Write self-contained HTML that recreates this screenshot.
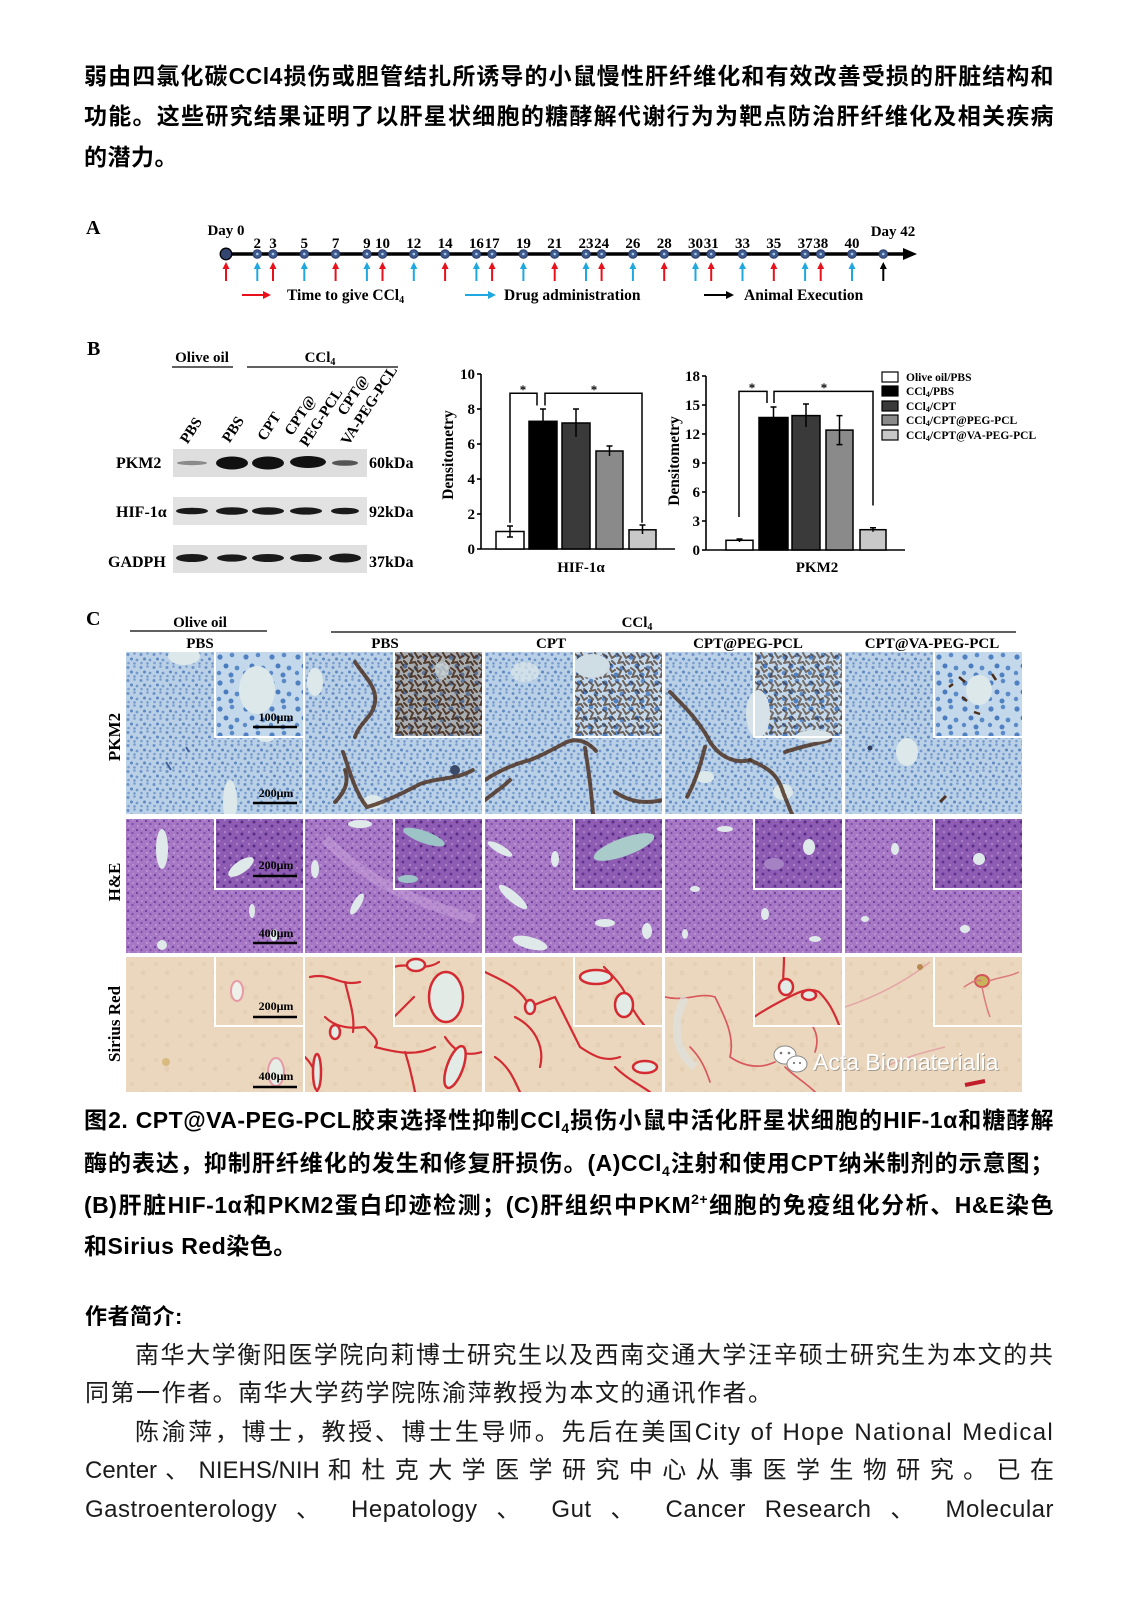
<!DOCTYPE html>
<html><head><meta charset="utf-8">
<style>
html,body{margin:0;padding:0;background:#fff;}
body{width:1133px;height:1602px;position:relative;overflow:hidden;}
.p{position:absolute;left:84px;width:970px;height:32px;line-height:32px;font-family:"Liberation Sans","Noto Sans CJK SC",sans-serif;text-align:justify;text-align-last:justify;}
.b{font-weight:bold;font-size:23px;color:#000;letter-spacing:0.5px;}
.r{font-weight:normal;font-size:24px;color:#1b1b1b;letter-spacing:1.3px;}
.sb{font-size:14px;vertical-align:-5px;line-height:0;}
.sp{font-size:14px;vertical-align:9px;line-height:0;}
svg text{font-family:"Liberation Serif",serif;font-weight:bold;}
.bs{fill:none;stroke:#4e3322;stroke-width:4;stroke-dasharray:3 2;stroke-linecap:round;opacity:.85;}
.vs{fill:#dde8ea;}
.ib{fill:none;stroke:#fff;stroke-width:2;}
.rf{fill:none;stroke:#d42b32;stroke-width:2.2;stroke-linecap:round;}
.vr{fill:#e3ebe6;stroke:#d42b32;stroke-width:2.5;}
.hv{fill:#dfe9ea;}
</style></head><body>

<div class="p b" style="top:60px">弱由四氯化碳CCl4损伤或胆管结扎所诱导的小鼠慢性肝纤维化和有效改善受损的肝脏结构和</div>
<div class="p b" style="top:100px">功能。这些研究结果证明了以肝星状细胞的糖酵解代谢行为为靶点防治肝纤维化及相关疾病</div>
<div class="p b" style="top:141px;text-align-last:left">的潜力。</div>

<svg width="1133" height="1602" style="position:absolute;left:0;top:0" xmlns="http://www.w3.org/2000/svg">
<defs>
<pattern id="pk" width="13" height="13" patternUnits="userSpaceOnUse">
 <rect width="13" height="13" fill="#b9d0e6"/>
 <circle cx="2" cy="2.5" r="1.5" fill="#6b92c7"/><circle cx="8.5" cy="1.5" r="1.3" fill="#7c9fd0"/>
 <circle cx="5.5" cy="7" r="1.5" fill="#5e88c2"/><circle cx="11" cy="8" r="1.4" fill="#7399cc"/>
 <circle cx="2.5" cy="11" r="1.3" fill="#7c9fd0"/><circle cx="8.5" cy="11.5" r="1.2" fill="#6b92c7"/>
</pattern>
<pattern id="pki" width="26" height="26" patternUnits="userSpaceOnUse">
 <rect width="26" height="26" fill="#c3d8ea"/>
 <circle cx="5" cy="5" r="2.6" fill="#4f80c2"/><circle cx="17" cy="3" r="2.3" fill="#5b8ac8"/>
 <circle cx="11" cy="14" r="2.5" fill="#4a7bbf"/><circle cx="22" cy="16" r="2.4" fill="#5b8ac8"/>
 <circle cx="4" cy="21" r="2.2" fill="#5b8ac8"/><circle cx="16" cy="23" r="2.5" fill="#4f80c2"/>
</pattern>
<pattern id="brn" width="14" height="14" patternUnits="userSpaceOnUse">
 <path d="M1,2 l4,3 l-2,4 M7,1 l3,5 l3,-2 M2,11 l5,-1 l2,3 M10,9 l3,3" stroke="#4a2e1c" stroke-width="2" fill="none" stroke-linecap="round"/>
</pattern>
<pattern id="he" width="9" height="9" patternUnits="userSpaceOnUse">
 <rect width="9" height="9" fill="#a677c4"/>
 <circle cx="2" cy="2" r="1.1" fill="#6d3e9c"/><circle cx="6.5" cy="5" r="1" fill="#75449f"/>
 <circle cx="3" cy="7" r=".9" fill="#c9a3da"/><circle cx="7" cy="1" r=".8" fill="#c9a3da"/>
</pattern>
<pattern id="hei" width="12" height="12" patternUnits="userSpaceOnUse">
 <rect width="12" height="12" fill="#8e5db3"/>
 <circle cx="3" cy="3" r="1.5" fill="#5a2c8a"/><circle cx="9" cy="7" r="1.4" fill="#5f3290"/>
 <circle cx="4" cy="10" r="1" fill="#b48ccc"/><circle cx="10" cy="1" r="1" fill="#b48ccc"/>
</pattern>
<pattern id="sr" width="24" height="24" patternUnits="userSpaceOnUse">
 <rect width="24" height="24" fill="#ead7be"/>
 <circle cx="6" cy="7" r="2" fill="#e4cfb3"/><circle cx="17" cy="16" r="2.5" fill="#e4cfb3"/>
</pattern>
<g id="arR"><line x1="0" y1="281" x2="0" y2="267" stroke="#e8101a" stroke-width="2"/><polygon points="-3.5,269 0,262 3.5,269" fill="#e8101a"/></g>
<g id="arB"><line x1="0" y1="281" x2="0" y2="267" stroke="#1fa8e0" stroke-width="2"/><polygon points="-3.5,269 0,262 3.5,269" fill="#1fa8e0"/></g>
<g id="arK"><line x1="0" y1="281" x2="0" y2="267" stroke="#000" stroke-width="2"/><polygon points="-3.5,269 0,262 3.5,269" fill="#000"/></g>
<g id="dt"><circle cx="0" cy="254" r="4.3" fill="#3e5a8e" stroke="#2b3c66" stroke-width="1"/><circle cx="0" cy="254" r="1.3" fill="#a9c9e8"/></g>
</defs>

<!-- ===== Panel A ===== -->
<text x="86" y="234" font-size="20">A</text>
<line x1="226" y1="254" x2="905" y2="254" stroke="#000" stroke-width="3.5"/>
<polygon points="903,248 917,254 903,260" fill="#000"/>
<circle cx="226" cy="254" r="5.8" fill="#34466f" stroke="#000" stroke-width="1.3"/>
<g>
<use href="#dt" x="257.3"/><use href="#dt" x="273"/><use href="#dt" x="304.3"/><use href="#dt" x="335.6"/>
<use href="#dt" x="366.9"/><use href="#dt" x="382.5"/><use href="#dt" x="413.8"/><use href="#dt" x="445.1"/>
<use href="#dt" x="476.4"/><use href="#dt" x="492.1"/><use href="#dt" x="523.4"/><use href="#dt" x="554.7"/>
<use href="#dt" x="586"/><use href="#dt" x="601.6"/><use href="#dt" x="632.9"/><use href="#dt" x="664.2"/>
<use href="#dt" x="695.5"/><use href="#dt" x="711.2"/><use href="#dt" x="742.5"/><use href="#dt" x="773.8"/>
<use href="#dt" x="805.1"/><use href="#dt" x="820.7"/><use href="#dt" x="852"/><use href="#dt" x="883.3"/>
</g>
<g>
<use href="#arR" x="226"/><use href="#arR" x="273"/><use href="#arR" x="335.6"/><use href="#arR" x="382.5"/>
<use href="#arR" x="445.1"/><use href="#arR" x="492.1"/><use href="#arR" x="554.7"/><use href="#arR" x="601.6"/>
<use href="#arR" x="664.2"/><use href="#arR" x="711.2"/><use href="#arR" x="773.8"/><use href="#arR" x="820.7"/>
<use href="#arB" x="257.3"/><use href="#arB" x="304.3"/><use href="#arB" x="366.9"/><use href="#arB" x="413.8"/>
<use href="#arB" x="476.4"/><use href="#arB" x="523.4"/><use href="#arB" x="586"/><use href="#arB" x="632.9"/>
<use href="#arB" x="695.5"/><use href="#arB" x="742.5"/><use href="#arB" x="805.1"/><use href="#arB" x="852"/>
<use href="#arK" x="883.3"/>
</g>
<g font-size="15" text-anchor="middle">
<text x="226" y="235">Day 0</text>
<text x="893" y="236">Day 42</text>
<text x="257.3" y="248">2</text><text x="273" y="248">3</text><text x="304.3" y="248">5</text><text x="335.6" y="248">7</text>
<text x="366.9" y="248">9</text><text x="382.5" y="248">10</text><text x="413.8" y="248">12</text><text x="445.1" y="248">14</text>
<text x="476.4" y="248">16</text><text x="492.1" y="248">17</text><text x="523.4" y="248">19</text><text x="554.7" y="248">21</text>
<text x="586" y="248">23</text><text x="601.6" y="248">24</text><text x="632.9" y="248">26</text><text x="664.2" y="248">28</text>
<text x="695.5" y="248">30</text><text x="711.2" y="248">31</text><text x="742.5" y="248">33</text><text x="773.8" y="248">35</text>
<text x="805.1" y="248">37</text><text x="820.7" y="248">38</text><text x="852" y="248">40</text>
</g>
<line x1="242" y1="295" x2="265" y2="295" stroke="#e8101a" stroke-width="2"/><polygon points="263,291 271,295 263,299" fill="#e8101a"/>
<text x="287" y="300" font-size="15.5">Time to give CCl<tspan font-size="10" dy="3">4</tspan></text>
<line x1="465" y1="295" x2="490" y2="295" stroke="#1fa8e0" stroke-width="2"/><polygon points="488,291 496,295 488,299" fill="#1fa8e0"/>
<text x="504" y="300" font-size="15.5">Drug administration</text>
<line x1="704" y1="295" x2="728" y2="295" stroke="#000" stroke-width="2"/><polygon points="726,291 734,295 726,299" fill="#000"/>
<text x="744" y="300" font-size="15.5">Animal Execution</text>

<!-- ===== Panel B: blots ===== -->
<text x="87" y="355" font-size="20">B</text>
<text x="202" y="362" font-size="15" text-anchor="middle">Olive oil</text>
<line x1="172" y1="367" x2="233" y2="367" stroke="#000" stroke-width="1.3"/>
<text x="320" y="362" font-size="15" text-anchor="middle">CCl<tspan font-size="10" dy="3">4</tspan></text>
<line x1="247" y1="367" x2="398" y2="367" stroke="#000" stroke-width="1.3"/>
<g font-size="15" text-anchor="middle">
<text transform="translate(195,433) rotate(-57)">PBS</text>
<text transform="translate(237,432) rotate(-57)">PBS</text>
<text transform="translate(273,429) rotate(-57)">CPT</text>
<text transform="translate(304,418) rotate(-57)">CPT@</text>
<text transform="translate(325,420) rotate(-57)">PEG-PCL</text>
<text transform="translate(357,398) rotate(-57)">CPT@</text>
<text transform="translate(373,408) rotate(-57)">VA-PEG-PCL</text>
</g>
<rect x="173" y="449" width="194" height="28" fill="#dedede"/>
<rect x="173" y="497" width="194" height="28" fill="#e2e2e2"/>
<rect x="173" y="545" width="194" height="28" fill="#e0e0e0"/>
<ellipse cx="192" cy="463" rx="15" ry="2.2" fill="#8a8a8a"/>
<ellipse cx="232" cy="463" rx="16" ry="6.5" fill="#111"/>
<ellipse cx="268" cy="463" rx="16" ry="6.5" fill="#111"/>
<ellipse cx="308" cy="462" rx="18" ry="6" fill="#111"/>
<ellipse cx="345" cy="463" rx="13" ry="2.8" fill="#555"/>
<g fill="#1a1a1a">
<ellipse cx="192" cy="511" rx="16" ry="3.3"/><ellipse cx="232" cy="511" rx="16" ry="3.8"/><ellipse cx="268" cy="511" rx="16" ry="3.8"/>
<ellipse cx="306" cy="511" rx="16" ry="3.6"/><ellipse cx="345" cy="511" rx="14" ry="3.3"/>
<ellipse cx="192" cy="558" rx="16" ry="4"/><ellipse cx="232" cy="558" rx="15" ry="3.6"/><ellipse cx="268" cy="558" rx="16" ry="4"/>
<ellipse cx="306" cy="558" rx="16" ry="4"/><ellipse cx="345" cy="558" rx="16" ry="4.5"/>
</g>
<g font-size="16">
<text x="116" y="468">PKM2</text><text x="116" y="517">HIF-1α</text><text x="108" y="567">GADPH</text>
<text x="369" y="468">60kDa</text><text x="369" y="517">92kDa</text><text x="369" y="567">37kDa</text>
</g>

<!-- ===== HIF-1a chart ===== -->
<g stroke="#000" stroke-width="1.6" fill="none">
<line x1="481" y1="374" x2="481" y2="549"/><line x1="481" y1="549" x2="675" y2="549"/>
<line x1="477" y1="549" x2="481" y2="549"/><line x1="477" y1="514" x2="481" y2="514"/><line x1="477" y1="479" x2="481" y2="479"/>
<line x1="477" y1="444" x2="481" y2="444"/><line x1="477" y1="409" x2="481" y2="409"/><line x1="477" y1="374" x2="481" y2="374"/>
</g>
<g font-size="15" text-anchor="end">
<text x="475" y="554">0</text><text x="475" y="519">2</text><text x="475" y="484">4</text><text x="475" y="449">6</text><text x="475" y="414">8</text><text x="475" y="379">10</text>
</g>
<text transform="translate(453,455) rotate(-90)" font-size="15.5" text-anchor="middle">Densitometry</text>
<text x="581" y="572" font-size="15" text-anchor="middle">HIF-1α</text>
<g stroke="#000" stroke-width="1.5">
<rect x="496" y="531.5" width="28" height="17.5" fill="#fff"/>
<rect x="529" y="421.3" width="28" height="127.7" fill="#000"/>
<rect x="562" y="423" width="28" height="126" fill="#3a3a3a"/>
<rect x="596" y="451" width="27" height="98" fill="#8a8a8a"/>
<rect x="629" y="529.8" width="27" height="19.2" fill="#c8c8c8"/>
</g>
<g stroke="#000" stroke-width="1.5" fill="none">
<path d="M510,526 V537 M507,526 H513 M507,537 H513"/>
<path d="M543,409 V433 M540,409 H546"/>
<path d="M576,409 V437 M573,409 H579"/>
<path d="M609.5,446 V456 M606.5,446 H612.5"/>
<path d="M642.5,525 V534 M639.5,525 H645.5"/>
<path d="M510,522.7 V393.3 H537 V405.5"/>
<path d="M545,405.5 V393.3 H642 V522.7"/>
</g>
<text x="523" y="394" font-size="13" text-anchor="middle" font-weight="normal">*</text>
<text x="594" y="394" font-size="13" text-anchor="middle" font-weight="normal">*</text>

<!-- ===== PKM2 chart ===== -->
<g stroke="#000" stroke-width="1.6" fill="none">
<line x1="706" y1="376" x2="706" y2="550"/><line x1="706" y1="550" x2="905" y2="550"/>
<line x1="702" y1="550" x2="706" y2="550"/><line x1="702" y1="521" x2="706" y2="521"/><line x1="702" y1="492" x2="706" y2="492"/>
<line x1="702" y1="463" x2="706" y2="463"/><line x1="702" y1="434" x2="706" y2="434"/><line x1="702" y1="405" x2="706" y2="405"/><line x1="702" y1="376" x2="706" y2="376"/>
</g>
<g font-size="15" text-anchor="end">
<text x="700" y="555">0</text><text x="700" y="526">3</text><text x="700" y="497">6</text><text x="700" y="468">9</text>
<text x="700" y="439">12</text><text x="700" y="410">15</text><text x="700" y="381">18</text>
</g>
<text transform="translate(679,461) rotate(-90)" font-size="15.5" text-anchor="middle">Densitometry</text>
<text x="817" y="572" font-size="15" text-anchor="middle">PKM2</text>
<g stroke="#000" stroke-width="1.5">
<rect x="726" y="540.3" width="27" height="9.7" fill="#fff"/>
<rect x="759" y="417.5" width="29" height="132.5" fill="#000"/>
<rect x="792" y="415.6" width="28" height="134.4" fill="#3a3a3a"/>
<rect x="826" y="430.1" width="27" height="119.9" fill="#8a8a8a"/>
<rect x="860" y="529.7" width="26" height="20.3" fill="#c8c8c8"/>
</g>
<g stroke="#000" stroke-width="1.5" fill="none">
<path d="M739.5,539 V542 M736.5,539 H742.5"/>
<path d="M773.5,407 V428 M770.5,407 H776.5"/>
<path d="M806,404 V427 M803,404 H809"/>
<path d="M839.5,415.6 V444.6 M836.5,415.6 H842.5 M836.5,444.6 H842.5"/>
<path d="M873,527.7 V531.7 M870,527.7 H876"/>
<path d="M739,517 V391.4 H767 V403"/>
<path d="M774,403 V391.4 H873 V505.5"/>
</g>
<text x="752" y="392" font-size="13" text-anchor="middle" font-weight="normal">*</text>
<text x="824" y="392" font-size="13" text-anchor="middle" font-weight="normal">*</text>

<!-- legend -->
<g stroke="#000" stroke-width="1.2">
<rect x="882" y="372" width="16" height="10" fill="#fff"/>
<rect x="882" y="386" width="16" height="10" fill="#000"/>
<rect x="882" y="401" width="16" height="10" fill="#3a3a3a"/>
<rect x="882" y="415" width="16" height="10" fill="#8a8a8a"/>
<rect x="882" y="430" width="16" height="10" fill="#c8c8c8"/>
</g>
<g font-size="11.5">
<text x="906" y="381">Olive oil/PBS</text>
<text x="906" y="395">CCl<tspan font-size="8" dy="2">4</tspan><tspan dy="-2">/PBS</tspan></text>
<text x="906" y="410">CCl<tspan font-size="8" dy="2">4</tspan><tspan dy="-2">/CPT</tspan></text>
<text x="906" y="424">CCl<tspan font-size="8" dy="2">4</tspan><tspan dy="-2">/CPT@PEG-PCL</tspan></text>
<text x="906" y="439">CCl<tspan font-size="8" dy="2">4</tspan><tspan dy="-2">/CPT@VA-PEG-PCL</tspan></text>
</g>

<!-- ===== Panel C ===== -->
<text x="86" y="625" font-size="20">C</text>
<text x="200" y="627" font-size="15" text-anchor="middle">Olive oil</text>
<line x1="130" y1="631" x2="267" y2="631" stroke="#000" stroke-width="1.3"/>
<text x="637" y="627" font-size="15" text-anchor="middle">CCl<tspan font-size="10" dy="3">4</tspan></text>
<line x1="331" y1="632" x2="1016" y2="632" stroke="#000" stroke-width="1.3"/>
<g font-size="15" text-anchor="middle">
<text x="200" y="648">PBS</text><text x="385" y="648">PBS</text><text x="551" y="648">CPT</text>
<text x="748" y="648">CPT@PEG-PCL</text><text x="932" y="648">CPT@VA-PEG-PCL</text>
</g>
<g font-size="17" text-anchor="middle">
<text transform="translate(120,737) rotate(-90)">PKM2</text>
<text transform="translate(120,882) rotate(-90)">H&amp;E</text>
<text transform="translate(120,1024) rotate(-90)">Sirius Red</text>
</g>

<!-- Row 1 PKM2 -->
<svg x="126" y="652" width="177" height="162">
<rect width="177" height="162" fill="url(#pk)"/>
<ellipse class="vs" cx="58" cy="4" rx="16" ry="9"/>
<ellipse class="vs" cx="104" cy="150" rx="7" ry="22"/>
<ellipse class="vs" cx="140" cy="86" rx="8" ry="4"/>
<path d="M40,110 l5,8 M60,95 l3,5" stroke="#3f5f9a" stroke-width="2"/>
<g transform="translate(89,0)"><rect width="88" height="84" fill="url(#pki)"/><ellipse class="vs" cx="42" cy="38" rx="18" ry="24"/></g>
<path class="ib" d="M89,0V85H177"/>
</svg>
<svg x="305" y="652" width="177" height="162">
<rect width="177" height="162" fill="url(#pk)"/>
<ellipse class="vs" cx="10" cy="30" rx="8" ry="14"/>
<ellipse class="vs" cx="68" cy="150" rx="10" ry="7"/>
<path class="bs" d="M50,10 C60,25 72,35 70,50 C68,65 55,70 50,85"/>
<path class="bs" d="M38,100 C45,120 50,140 62,155 C80,150 100,140 115,132 C135,125 150,128 168,118"/>
<path class="bs" d="M30,150 C40,140 44,130 40,118"/>
<circle cx="150" cy="118" r="5" fill="#3c4a6a"/>
<g transform="translate(89,0)"><rect width="88" height="84" fill="url(#pki)"/><rect width="88" height="84" fill="#6a4a30" opacity=".3"/><rect width="88" height="84" fill="url(#brn)" opacity=".9"/><ellipse cx="48" cy="18" rx="7" ry="9" fill="#c9d6dc" opacity=".8"/></g>
<path class="ib" d="M89,0V85H177"/>
</svg>
<svg x="485" y="652" width="177" height="162">
<rect width="177" height="162" fill="url(#pk)"/>
<ellipse class="vs" cx="40" cy="20" rx="14" ry="10" opacity=".7"/>
<path class="bs" d="M0,128 C15,118 30,112 45,108 C60,102 70,96 82,90 C95,85 105,92 112,100"/>
<path class="bs" d="M100,96 C103,115 106,135 108,162"/>
<path class="bs" d="M0,148 C10,140 18,135 25,128"/>
<path class="bs" d="M130,140 C145,150 160,152 177,148"/>
<g transform="translate(89,0)"><rect width="88" height="84" fill="url(#pki)"/><rect width="88" height="84" fill="url(#brn)" opacity=".7"/><ellipse cx="18" cy="14" rx="18" ry="12" fill="#cfdde4"/></g>
<path class="ib" d="M89,0V85H177"/>
</svg>
<svg x="665" y="652" width="177" height="162">
<rect width="177" height="162" fill="url(#pk)"/>
<ellipse class="vs" cx="40" cy="125" rx="9" ry="6"/>
<ellipse class="vs" cx="118" cy="140" rx="10" ry="8"/>
<path class="bs" d="M5,40 C20,55 35,70 45,90 C55,105 70,112 85,108"/>
<path class="bs" d="M40,95 C35,115 30,130 22,145"/>
<path class="bs" d="M85,108 C100,115 112,120 118,140 C122,150 125,158 127,162"/>
<path class="bs" d="M120,100 C135,95 150,92 165,88"/>
<g transform="translate(89,0)"><rect width="88" height="84" fill="url(#pki)"/><rect width="88" height="84" fill="url(#brn)" opacity=".65"/><ellipse cx="4" cy="62" rx="12" ry="24" fill="#d6e2e8"/><ellipse cx="60" cy="84" rx="18" ry="6" fill="#d6e2e8"/></g>
<path class="ib" d="M89,0V85H177"/>
</svg>
<svg x="845" y="652" width="177" height="162">
<rect width="177" height="162" fill="url(#pk)"/>
<ellipse class="vs" cx="62" cy="100" rx="11" ry="14"/>
<circle cx="25" cy="96" r="2.5" fill="#2d3d60"/>
<path d="M95,150 l6,-6" stroke="#4e3322" stroke-width="3"/>
<g transform="translate(89,0)"><rect width="88" height="84" fill="url(#pki)"/><ellipse class="vs" cx="45" cy="38" rx="13" ry="15"/>
<path d="M25,25 l6,5 M28,45 l5,4 M58,22 l4,6 M40,60 l6,2 M15,35 l4,-3" stroke="#4a2e1c" stroke-width="2.5"/></g>
<path class="ib" d="M89,0V85H177"/>
</svg>

<!-- Row 2 H&E -->
<svg x="126" y="819" width="177" height="134">
<rect width="177" height="134" fill="url(#he)"/>
<ellipse class="hv" cx="36" cy="30" rx="6" ry="20"/>
<ellipse class="hv" cx="126" cy="92" rx="3" ry="7"/>
<ellipse class="hv" cx="148" cy="116" rx="4" ry="6"/>
<ellipse class="hv" cx="36" cy="126" rx="5" ry="5"/>
<g transform="translate(89,0)"><rect width="88" height="69" fill="url(#hei)"/><ellipse class="hv" cx="26" cy="48" rx="15" ry="6" transform="rotate(-35 26 48)"/></g>
<path class="ib" d="M89,0V70H177"/>
</svg>
<svg x="305" y="819" width="177" height="134">
<rect width="177" height="134" fill="url(#he)"/>
<ellipse class="hv" cx="55" cy="5" rx="12" ry="4"/>
<ellipse class="hv" cx="52" cy="85" rx="4" ry="12" transform="rotate(30 52 85)"/>
<ellipse class="hv" cx="10" cy="50" rx="4" ry="9"/>
<ellipse class="hv" cx="100" cy="48" rx="4" ry="3"/>
<path d="M20,20 C60,60 100,80 170,100" stroke="#c9a3dc" stroke-width="10" fill="none" opacity=".5"/>
<g transform="translate(89,0)"><rect width="88" height="69" fill="url(#hei)"/><ellipse cx="30" cy="18" rx="22" ry="6" fill="#9cc4c6" transform="rotate(20 30 18)"/><ellipse cx="14" cy="60" rx="10" ry="4" fill="#9cc4c6"/></g>
<path class="ib" d="M89,0V70H177"/>
</svg>
<svg x="485" y="819" width="177" height="134">
<rect width="177" height="134" fill="url(#he)"/>
<ellipse class="hv" cx="15" cy="30" rx="14" ry="4" transform="rotate(30 15 30)"/>
<ellipse class="hv" cx="28" cy="78" rx="18" ry="5" transform="rotate(40 28 78)"/>
<ellipse class="hv" cx="45" cy="124" rx="18" ry="6" transform="rotate(15 45 124)"/>
<ellipse class="hv" cx="120" cy="104" rx="10" ry="4"/>
<ellipse class="hv" cx="162" cy="112" rx="5" ry="8"/>
<ellipse class="hv" cx="130" cy="55" rx="6" ry="3"/>
<ellipse class="hv" cx="70" cy="40" rx="4" ry="8"/>
<g transform="translate(89,0)"><rect width="88" height="69" fill="url(#hei)"/><ellipse cx="50" cy="28" rx="32" ry="9" fill="#a9cccb" transform="rotate(-20 50 28)"/></g>
<path class="ib" d="M89,0V70H177"/>
</svg>
<svg x="665" y="819" width="177" height="134">
<rect width="177" height="134" fill="url(#he)"/>
<ellipse class="hv" cx="60" cy="10" rx="8" ry="3"/>
<ellipse class="hv" cx="30" cy="70" rx="5" ry="3"/>
<ellipse class="hv" cx="100" cy="95" rx="4" ry="6"/>
<ellipse class="hv" cx="150" cy="120" rx="6" ry="3"/>
<ellipse class="hv" cx="20" cy="115" rx="3" ry="5"/>
<g transform="translate(89,0)"><rect width="88" height="69" fill="url(#hei)"/><ellipse class="hv" cx="55" cy="28" rx="6" ry="8"/><ellipse cx="20" cy="45" rx="10" ry="6" fill="#a582c4"/></g>
<path class="ib" d="M89,0V70H177"/>
</svg>
<svg x="845" y="819" width="177" height="134">
<rect width="177" height="134" fill="url(#he)"/>
<ellipse class="hv" cx="50" cy="30" rx="4" ry="6"/>
<ellipse class="hv" cx="20" cy="100" rx="4" ry="3"/>
<ellipse class="hv" cx="120" cy="110" rx="5" ry="4"/>
<g transform="translate(89,0)"><rect width="88" height="69" fill="url(#hei)"/><ellipse class="hv" cx="45" cy="40" rx="6" ry="6"/></g>
<path class="ib" d="M89,0V70H177"/>
</svg>

<!-- Row 3 Sirius Red -->
<svg x="126" y="957" width="177" height="135">
<rect width="177" height="135" fill="url(#sr)"/>
<ellipse cx="150" cy="115" rx="8" ry="14" fill="#e6ece6" stroke="#e79aa5" stroke-width="2"/>
<circle cx="40" cy="105" r="4" fill="#d9bb80"/>
<g transform="translate(89,0)"><rect width="88" height="68" fill="url(#sr)"/><ellipse cx="22" cy="34" rx="6" ry="10" fill="#eef0ea" stroke="#e79aa5" stroke-width="2"/></g>
<path class="ib" d="M89,0V69H177"/>
</svg>
<svg x="305" y="957" width="177" height="135">
<rect width="177" height="135" fill="url(#sr)"/>
<path class="rf" d="M5,20 C25,15 35,30 55,25 M40,25 C45,45 50,60 48,75 M20,60 C30,70 45,72 60,70 M70,90 C90,95 110,100 130,90 M100,95 C105,110 108,125 110,135 M140,80 C150,95 160,100 177,95 M0,100 C10,110 15,125 12,135 M60,70 C70,80 75,85 70,90"/>
<ellipse class="vr" cx="12" cy="115" rx="4" ry="18"/>
<ellipse class="vr" cx="150" cy="110" rx="8" ry="22" transform="rotate(20 150 110)"/>
<ellipse class="vr" cx="30" cy="75" rx="5" ry="7"/>
<g transform="translate(89,0)"><rect width="88" height="68" fill="url(#sr)"/>
<path class="rf" d="M0,10 C15,5 30,15 45,5 M20,40 C10,50 5,55 0,60"/>
<ellipse class="vr" cx="52" cy="40" rx="17" ry="25" stroke-width="3.5"/><ellipse class="vr" cx="22" cy="8" rx="9" ry="6"/></g>
<path class="ib" d="M89,0V69H177"/>
</svg>
<svg x="485" y="957" width="177" height="135">
<rect width="177" height="135" fill="url(#sr)"/>
<path class="rf" d="M0,15 C20,25 35,30 45,50 M30,60 C50,70 60,90 55,110 M70,40 C80,60 85,70 95,90 M95,90 C110,100 120,105 135,100 M10,100 C25,110 30,125 35,135 M130,110 C140,120 150,125 165,135 M45,50 C55,45 65,42 70,40"/>
<ellipse class="vr" cx="45" cy="50" rx="5" ry="7"/>
<ellipse class="vr" cx="160" cy="110" rx="12" ry="6"/>
<g transform="translate(89,0)"><rect width="88" height="68" fill="url(#sr)"/>
<path class="rf" d="M30,10 C40,20 50,30 55,45 M55,45 C60,55 65,62 70,68"/>
<ellipse class="vr" cx="22" cy="20" rx="16" ry="7" stroke-width="3"/><ellipse class="vr" cx="50" cy="48" rx="9" ry="12" stroke-width="3"/></g>
<path class="ib" d="M89,0V69H177"/>
</svg>
<svg x="665" y="957" width="177" height="135">
<rect width="177" height="135" fill="url(#sr)"/>
<path class="rf" style="stroke-width:1.7;stroke:#d9585c" d="M0,40 C20,45 35,35 50,40 M50,40 C60,60 70,80 65,100 M65,100 C80,110 95,112 110,105 M25,90 C35,100 40,110 45,125 M120,110 C130,120 140,125 150,135 M140,60 C150,70 155,80 150,95"/>
<path d="M20,40 C10,60 5,90 30,110" stroke="#dde2de" stroke-width="8" fill="none" opacity=".7"/>
<g transform="translate(89,0)"><rect width="88" height="68" fill="url(#sr)"/>
<path class="rf" d="M0,60 C15,50 25,45 35,40 C45,35 55,30 65,35 M30,0 C30,15 28,25 30,35 M65,35 C75,45 80,55 85,68"/>
<ellipse class="vr" cx="32" cy="30" rx="7" ry="8"/><ellipse class="vr" cx="55" cy="38" rx="7" ry="5"/></g>
<path class="ib" d="M89,0V69H177"/>
</svg>
<svg x="845" y="957" width="177" height="135">
<rect width="177" height="135" fill="url(#sr)"/>
<path d="M0,50 C30,40 60,25 85,5 M40,110 C60,100 80,95 100,90" stroke="#e4a6a6" stroke-width="1.5" fill="none"/>
<circle cx="75" cy="10" r="3" fill="#b78850"/>
<path d="M120,128 l20,-4" stroke="#c21e2a" stroke-width="4"/>
<g transform="translate(89,0)"><rect width="88" height="68" fill="url(#sr)"/>
<ellipse cx="48" cy="24" rx="7" ry="6" fill="#c9b35a" stroke="#d4555a" stroke-width="2"/>
<path d="M30,30 C38,25 42,22 48,24 M55,24 C65,20 75,20 85,15 M48,30 C50,40 52,50 56,60" stroke="#dc7a7e" stroke-width="1.5" fill="none"/></g>
<path class="ib" d="M89,0V69H177"/>
</svg>

<!-- scale bars (panel 1) -->
<g font-size="12" text-anchor="middle">
<text x="276" y="721">100μm</text><text x="276" y="797">200μm</text>
<text x="276" y="869">200μm</text><text x="276" y="937">400μm</text>
<text x="276" y="1010">200μm</text><text x="276" y="1080">400μm</text>
</g>
<g stroke="#000" stroke-width="2.5">
<line x1="253" y1="727" x2="297" y2="727"/><line x1="253" y1="803" x2="297" y2="803"/>
<line x1="253" y1="876" x2="297" y2="876"/><line x1="253" y1="943" x2="297" y2="943"/>
<line x1="253" y1="1017" x2="297" y2="1017"/><line x1="253" y1="1087" x2="297" y2="1087"/>
</g>

<!-- watermark -->
<g>
<ellipse cx="785" cy="1055" rx="11" ry="9" fill="#fff" stroke="#888" stroke-width="1"/>
<ellipse cx="797" cy="1064" rx="10" ry="8" fill="#fff" stroke="#888" stroke-width="1"/>
<circle cx="781" cy="1053" r="1.3" fill="#777"/><circle cx="789" cy="1053" r="1.3" fill="#777"/>
<circle cx="794" cy="1063" r="1.1" fill="#777"/><circle cx="800" cy="1063" r="1.1" fill="#777"/>
<text x="814" y="1071" font-size="23" fill="#555" opacity=".45" style="font-family:'Liberation Sans',sans-serif;font-weight:normal">Acta Biomaterialia</text>
<text x="813" y="1070" font-size="23" fill="#fff" style="font-family:'Liberation Sans',sans-serif;font-weight:normal">Acta Biomaterialia</text>
</g>
</svg>

<div class="p b" style="top:1104px">图2. CPT@VA-PEG-PCL胶束选择性抑制CCl<span class="sb">4</span>损伤小鼠中活化肝星状细胞的HIF-1α和糖酵解</div>
<div class="p b" style="top:1147px">酶的表达，抑制肝纤维化的发生和修复肝损伤。(A)CCl<span class="sb">4</span>注射和使用CPT纳米制剂的示意图；</div>
<div class="p b" style="top:1189px">(B)肝脏HIF-1α和PKM2蛋白印迹检测；(C)肝组织中PKM<span class="sp">2+</span>细胞的免疫组化分析、H&amp;E染色</div>
<div class="p b" style="top:1230px;text-align-last:left">和Sirius Red染色。</div>

<div class="p b" style="top:1301px;left:85px;font-size:22px;text-align-last:left">作者简介:</div>
<div class="p r" style="top:1340px;left:135px;width:919px">南华大学衡阳医学院向莉博士研究生以及西南交通大学汪辛硕士研究生为本文的共</div>
<div class="p r" style="top:1378px;left:85px;text-align-last:left;letter-spacing:1.5px">同第一作者。南华大学药学院陈渝萍教授为本文的通讯作者。</div>
<div class="p r" style="top:1417px;left:135px;width:919px">陈渝萍，博士，教授、博士生导师。先后在美国City of Hope National Medical</div>
<div class="p r" style="top:1455px;left:85px;width:969px;letter-spacing:0">Center 、 NIEHS/NIH 和 杜 克 大 学 医 学 研 究 中 心 从 事 医 学 生 物 研 究 。 已 在</div>
<div class="p r" style="top:1494px;left:85px;width:969px;letter-spacing:0.5px">Gastroenterology 、 Hepatology 、 Gut 、 Cancer Research 、 Molecular</div>

</body></html>
